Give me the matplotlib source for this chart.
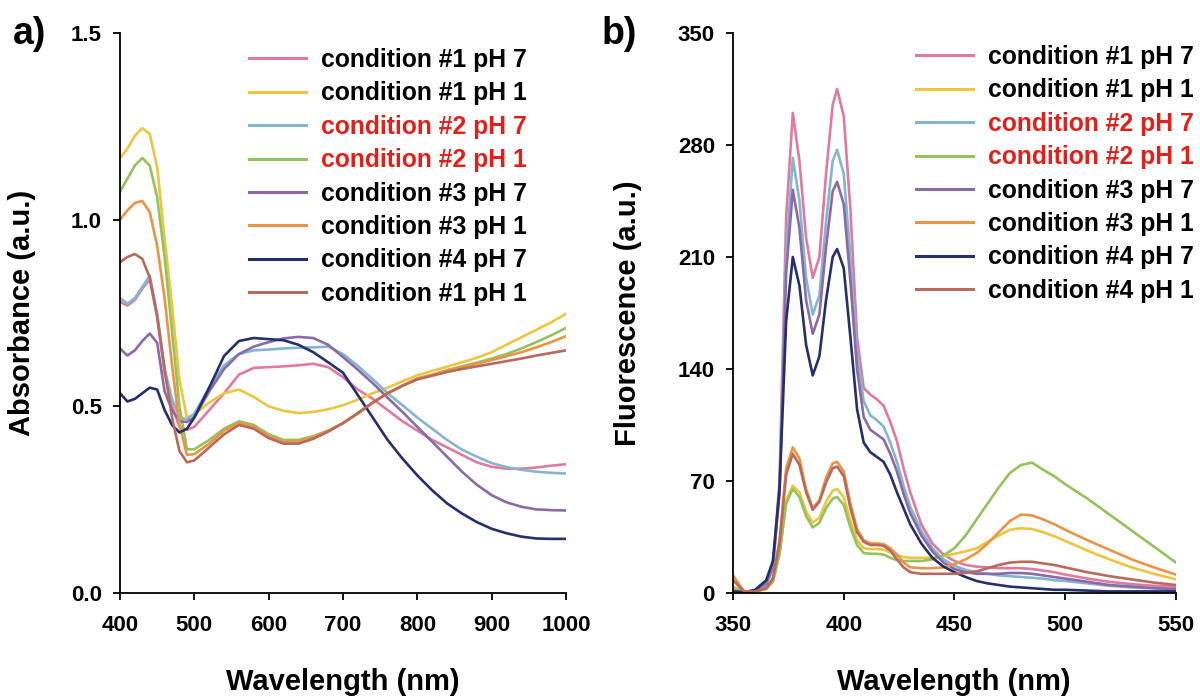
import numpy as np
import matplotlib
matplotlib.use("Agg")
import matplotlib.pyplot as plt

plt.rcParams['font.family'] = ['Liberation Sans', 'DejaVu Sans']
plt.rcParams['font.weight'] = 'bold'

# series labels and colours (same order in both panels)
labels_a = ["condition #1 pH 7", "condition #1 pH 1", "condition #2 pH 7", "condition #2 pH 1",
            "condition #3 pH 7", "condition #3 pH 1", "condition #4 pH 7", "condition #1 pH 1"]
labels_b = ["condition #1 pH 7", "condition #1 pH 1", "condition #2 pH 7", "condition #2 pH 1",
            "condition #3 pH 7", "condition #3 pH 1", "condition #4 pH 7", "condition #4 pH 1"]
colors = ["#e07aa0", "#ecc640", "#86b5cf", "#94c25b", "#8b6aa8", "#e99548", "#23306b", "#b86a5c"]
red_rows = [2, 3]

# ---- panel a: absorbance ----
wl_abs = [400, 410, 420, 430, 440, 450, 460, 470, 480, 490, 500, 520, 540, 560, 580, 600, 620, 640,
          660, 680, 700, 720, 740, 760, 780, 800, 820, 840, 860, 880, 900, 920, 940, 960, 980, 1000]
abs_c1_ph7 = [0.78, 0.77, 0.785, 0.815, 0.84, 0.74, 0.59, 0.50, 0.445, 0.437, 0.445, 0.49, 0.535, 0.585,
              0.603, 0.605, 0.607, 0.61, 0.614, 0.605, 0.578, 0.545, 0.52, 0.49, 0.46, 0.435, 0.41, 0.39,
              0.37, 0.35, 0.338, 0.333, 0.333, 0.336, 0.341, 0.345]
abs_c1_ph1 = [1.165, 1.19, 1.225, 1.245, 1.23, 1.14, 0.95, 0.77, 0.57, 0.47, 0.478, 0.51, 0.535, 0.545,
              0.525, 0.50, 0.488, 0.482, 0.485, 0.492, 0.503, 0.518, 0.535, 0.55, 0.567, 0.583, 0.595,
              0.606, 0.618, 0.63, 0.645, 0.665, 0.685, 0.705, 0.725, 0.748]
abs_c2_ph7 = [0.79, 0.775, 0.79, 0.82, 0.85, 0.75, 0.60, 0.52, 0.47, 0.465, 0.48, 0.55, 0.61, 0.64,
              0.65, 0.652, 0.655, 0.657, 0.658, 0.66, 0.64, 0.608, 0.573, 0.535, 0.503, 0.47, 0.44,
              0.41, 0.384, 0.365, 0.348, 0.337, 0.33, 0.325, 0.322, 0.32]
abs_c2_ph1 = [1.075, 1.11, 1.145, 1.165, 1.145, 1.06, 0.90, 0.70, 0.50, 0.385, 0.385, 0.41, 0.44, 0.46,
              0.45, 0.425, 0.41, 0.41, 0.42, 0.435, 0.455, 0.48, 0.51, 0.535, 0.555, 0.575, 0.585,
              0.597, 0.607, 0.617, 0.628, 0.64, 0.655, 0.672, 0.69, 0.71]
abs_c3_ph7 = [0.655, 0.636, 0.65, 0.675, 0.695, 0.67, 0.54, 0.49, 0.46, 0.458, 0.47, 0.54, 0.60, 0.64,
              0.66, 0.672, 0.682, 0.686, 0.683, 0.665, 0.632, 0.598, 0.562, 0.523, 0.485, 0.445, 0.405,
              0.365, 0.325, 0.29, 0.262, 0.243, 0.231, 0.224, 0.222, 0.221]
abs_c3_ph1 = [1.0, 1.025, 1.045, 1.05, 1.02, 0.93, 0.79, 0.61, 0.45, 0.37, 0.372, 0.40, 0.435, 0.455,
              0.445, 0.42, 0.405, 0.405, 0.418, 0.435, 0.455, 0.482, 0.51, 0.535, 0.556, 0.574, 0.584,
              0.596, 0.605, 0.614, 0.624, 0.634, 0.645, 0.658, 0.672, 0.688]
abs_c4_ph7 = [0.535, 0.513, 0.52, 0.535, 0.55, 0.545, 0.49, 0.45, 0.43, 0.44, 0.47, 0.55, 0.635, 0.675,
              0.683, 0.68, 0.677, 0.665, 0.645, 0.618, 0.59, 0.53, 0.47, 0.41, 0.36, 0.315, 0.275,
              0.24, 0.213, 0.19, 0.172, 0.16, 0.151, 0.146, 0.145, 0.145]
abs_c4_ph1 = [0.886, 0.90, 0.908, 0.895, 0.845, 0.74, 0.60, 0.47, 0.38, 0.35, 0.355, 0.39, 0.425, 0.45,
              0.44, 0.415, 0.40, 0.40, 0.413, 0.432, 0.455, 0.482, 0.51, 0.535, 0.555, 0.572, 0.582,
              0.592, 0.60, 0.607, 0.614, 0.621, 0.628, 0.636, 0.643, 0.65]

# ---- panel b: fluorescence ----
wl_fl = [350, 355, 360, 365, 368, 371, 374, 377, 380, 383, 386, 389, 392, 395, 397, 400, 403, 406,
         409, 412, 415, 418, 421, 424, 427, 430, 435, 440, 445, 450, 455, 460, 465, 470, 475, 480,
         485, 490, 495, 500, 510, 520, 530, 540, 550]
fl_c1_ph7 = [2, 0.5, 1, 5, 15, 70, 235, 300, 270, 222, 197, 210, 262, 305, 315, 298, 240, 160,
             128, 124, 121, 117, 107, 95, 78, 63, 43, 31, 24, 20, 17.5, 16.5, 16, 15.5, 15.5, 15.5,
             15, 14, 13, 11.5, 9, 7, 5.5, 4.5, 4]
fl_c1_ph1 = [4, 1, 1, 2.5, 7, 25, 58, 67, 63, 51, 44, 47, 57, 64, 65, 60, 45, 33,
             28, 27.5, 27.5, 27, 25.5, 23.5, 22.5, 22, 22, 22, 23, 24.5, 26, 28, 32, 36, 39.5, 40.5,
             40, 38, 35.5, 32.5, 26.5, 21, 16, 12, 8.5]
fl_c2_ph7 = [1, 0.5, 1, 5, 15, 65, 212, 272, 245, 197, 174, 186, 232, 270, 277, 262, 210, 150,
             120, 111, 108, 104, 94, 82, 67, 54, 39, 28, 21, 17, 14.5, 13, 12, 11, 10.5, 10,
             9.5, 9, 8, 7.5, 6, 4.5, 3.5, 3, 2.5]
fl_c2_ph1 = [3, 1, 1, 2.5, 7, 24, 56, 65, 60, 48, 41, 44, 53, 59, 60, 55, 41, 30,
             25, 24.5, 24.5, 24, 22, 20.5, 20, 20, 20, 21, 23.5, 28, 36, 46, 56, 66, 75, 80,
             81.5, 77, 73, 68, 59, 49, 39, 29, 19]
fl_c3_ph7 = [1, 0.5, 1.5, 6, 17, 62, 200, 252, 228, 183, 162, 174, 216, 251, 257, 243, 195, 140,
             110, 102, 99, 96, 87, 76, 62, 50, 36, 26, 19, 15, 13, 12, 12, 12, 12.5, 12.5,
             12, 11, 10, 9, 7, 5, 4, 3, 2.5]
fl_c3_ph1 = [11, 1, 1, 3, 9, 33, 78, 91, 84, 65, 53, 58, 72, 81, 82, 76, 56, 40,
             33, 31, 31, 30.5, 28, 24, 19, 16, 15.5, 15.5, 16, 18, 21, 25, 31, 38, 45, 49,
             48.5, 46, 43, 39.5, 33, 27, 21, 16, 11.5]
fl_c4_ph7 = [1, 0.5, 2, 8, 20, 65, 170, 210, 192, 155, 136, 148, 183, 210, 215, 203, 160, 115,
             94, 88, 85, 82, 74, 63, 53, 43, 31, 22, 16.5, 13, 10, 7.5, 6, 5, 4, 3.5,
             3, 2.5, 2, 2, 1.5, 1, 1, 1, 1]
fl_c4_ph1 = [8, 1, 1, 3, 9, 31, 74, 87, 80, 63, 52, 57, 69, 78, 79, 73, 53, 38,
             32, 30, 30, 29.5, 26.5, 21, 16, 13, 12, 12, 12, 12, 12.5, 13.5, 15.5, 17.5, 19, 19.5,
             19.5, 18.5, 17.5, 16, 13, 10.5, 8.5, 6.5, 5]

abs_series = [abs_c1_ph7, abs_c1_ph1, abs_c2_ph7, abs_c2_ph1, abs_c3_ph7, abs_c3_ph1, abs_c4_ph7, abs_c4_ph1]
fl_series = [fl_c1_ph7, fl_c1_ph1, fl_c2_ph7, fl_c2_ph1, fl_c3_ph7, fl_c3_ph1, fl_c4_ph7, fl_c4_ph1]

W, H = 1200, 699
fig = plt.figure(figsize=(12, 6.99), dpi=100)
ax1 = fig.add_axes([120 / W, 1 - 593 / H, 446 / W, 560 / H])
ax2 = fig.add_axes([733 / W, 1 - 593 / H, 443 / W, 560 / H])


def style(ax):
    for s in ["top", "right"]:
        ax.spines[s].set_visible(False)
    for s in ["left", "bottom"]:
        ax.spines[s].set_linewidth(1.3)
    ax.tick_params(direction="out", length=5, width=1.3, labelsize=16)
    ax.tick_params(axis="y", pad=8)
    ax.tick_params(axis="x", pad=11)


for ys, lab, c in zip(abs_series, labels_a, colors):
    ax1.plot(wl_abs, ys, color=c, lw=1.9, label=lab)
ax1.set_xlim(400, 1000)
ax1.set_ylim(0, 1.5)
ax1.set_xticks([400, 500, 600, 700, 800, 900, 1000])
ax1.set_yticks([0.0, 0.5, 1.0, 1.5])
ax1.set_yticklabels(["0.0", "0.5", "1.0", "1.5"])
style(ax1)

for ys, lab, c in zip(fl_series, labels_b, colors):
    ax2.plot(wl_fl, ys, color=c, lw=1.9, label=lab)
ax2.set_xlim(350, 550)
ax2.set_ylim(0, 350)
ax2.set_xticks([350, 400, 450, 500, 550])
ax2.set_yticks([0, 70, 140, 210, 280, 350])
style(ax2)


def add_legend(ax, x0, ytop):
    leg = ax.legend(loc="upper left", bbox_to_anchor=(x0 / W, 1 - ytop / H),
                    bbox_transform=fig.transFigure, frameon=False, fontsize=17.8,
                    handlelength=2.3, handletextpad=0.6, labelspacing=0.38,
                    borderpad=0, borderaxespad=0)
    for i, t in enumerate(leg.get_texts()):
        t.set_fontweight("bold")
        if i in red_rows:
            t.set_color("#e0201b")
    for ln in leg.get_lines():
        ln.set_linewidth(2.2)


add_legend(ax1, 249, 48)
add_legend(ax2, 916, 45)

fig.text(343 / W, 1 - 682 / H, "Wavelength (nm)", ha="center", va="center", fontsize=21, fontweight="bold")
fig.text(954 / W, 1 - 682 / H, "Wavelength (nm)", ha="center", va="center", fontsize=21, fontweight="bold")
fig.text(22 / W, 1 - 313 / H, "Absorbance (a.u.)", ha="center", va="center", rotation=90,
         fontsize=21, fontweight="bold")
fig.text(628 / W, 1 - 313 / H, "Fluorescence (a.u.)", ha="center", va="center", rotation=90,
         fontsize=21, fontweight="bold")
fig.text(30 / W, 1 - 34 / H, "a)", ha="center", va="center", fontsize=27, fontweight="bold")
fig.text(619 / W, 1 - 34 / H, "b)", ha="center", va="center", fontsize=27, fontweight="bold")

fig.savefig("out.png", dpi=100)
